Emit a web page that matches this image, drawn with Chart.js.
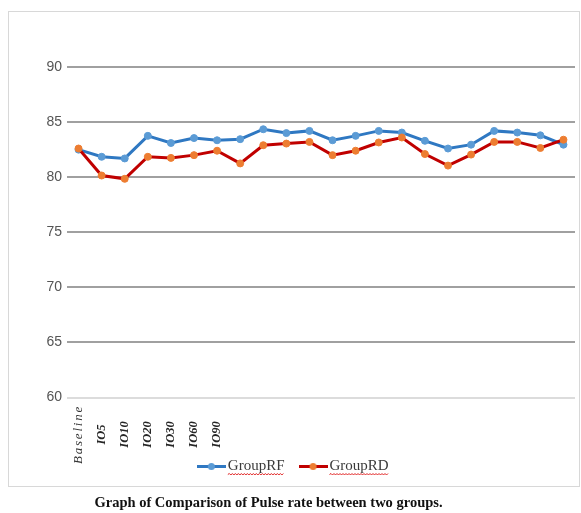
<!DOCTYPE html>
<html>
<head>
<meta charset="utf-8">
<script src="https://cdn.jsdelivr.net/npm/chart.js@4"></script>
<style>
  html, body { margin: 0; padding: 0; background: #fff; }
  body { width: 581px; height: 513px; position: relative; overflow: hidden; }
  #frame { position: absolute; left: 8px; top: 11px; width: 572px; height: 476px;
           border: 1px solid #d8d8d8; box-sizing: border-box; }
  #wrap { position: absolute; left: 0; top: 0; width: 581px; height: 513px; }
  #caption { position: absolute; left: 0; width: 537px; top: 494px; text-align: center;
             font: bold 14.5px "Liberation Serif", "Times New Roman", serif; color: #111;
             line-height: 16px; white-space: nowrap; }
</style>
</head>
<body>
<div id="frame"></div>
<div id="wrap"><canvas id="chart"></canvas></div>
<div id="caption">Graph of Comparison of Pulse rate between two groups.</div>
<script>
// Measurement points (only the first seven carry a printed label)
const categories = ['Baseline', 'IO5', 'IO10', 'IO20', 'IO30', 'IO60', 'IO90',
  '', '', '', '', '', '', '', '', '', '', '', '', '', '', ''];

// Pulse rate per group
const groupRF = [82.5, 81.85, 81.7, 83.75, 83.1, 83.55, 83.35, 83.45, 84.35, 84.0, 84.2,
  83.35, 83.75, 84.2, 84.05, 83.3, 82.6, 82.95, 84.2, 84.05, 83.8, 82.95];
const groupRD = [82.6, 80.15, 79.85, 81.85, 81.75, 82.0, 82.4, 81.25, 82.9, 83.05, 83.2,
  82.0, 82.4, 83.15, 83.6, 82.1, 81.05, 82.05, 83.2, 83.2, 82.65, 83.4];

const seriesNames = ['GroupRF', 'GroupRD'];
const yTicks = [60, 65, 70, 75, 80, 85, 90];

const lineColors = ['#2f78c2', '#c00000'];
const markerColors = ['#5b9bd5', '#ed7d31'];

// Legend swatch: a short line with a dot in the middle
function swatch(lineColor, dotColor) {
  const c = document.createElement('canvas');
  c.width = 29; c.height = 9;
  const g = c.getContext('2d');
  g.strokeStyle = lineColor; g.lineWidth = 3;
  g.beginPath(); g.moveTo(0, 4.5); g.lineTo(29, 4.5); g.stroke();
  g.fillStyle = dotColor;
  g.beginPath(); g.arc(14.5, 4.5, 3.5, 0, Math.PI * 2); g.fill();
  return c;
}
const swatches = [swatch(lineColors[0], markerColors[0]), swatch(lineColors[1], markerColors[1])];

// Rotated category labels, centred on a common line under the axis
const categoryLabels = {
  id: 'categoryLabels',
  afterDraw(chart) {
    const { ctx, chartArea } = chart;
    const xs = chart.scales.x;
    const yMid = chartArea.bottom + 37;
    ctx.save();
    ctx.textAlign = 'center';
    ctx.textBaseline = 'middle';
    categories.forEach((label, i) => {
      if (!label) return;
      const x = xs.getPixelForValue(i);
      ctx.save();
      ctx.translate(x, yMid);
      ctx.rotate(-Math.PI / 2);
      if (i === 0) {
        ctx.font = 'italic 13px "Liberation Serif", "Times New Roman", serif';
        ctx.fillStyle = '#333';
        if ('letterSpacing' in ctx) ctx.letterSpacing = '1.8px';
      } else {
        ctx.font = 'italic bold 12.5px "Liberation Serif", "Times New Roman", serif';
        ctx.fillStyle = '#262626';
        if ('letterSpacing' in ctx) ctx.letterSpacing = '0px';
      }
      ctx.fillText(label, 0, 0);
      ctx.restore();
    });
    ctx.restore();
  }
};

// Red wavy underline beneath the legend entries
const legendSquiggle = {
  id: 'legendSquiggle',
  afterDraw(chart) {
    const lg = chart.legend;
    if (!lg || !lg.legendHitBoxes) return;
    const { ctx } = chart;
    const opts = lg.options.labels;
    const fs = opts.font.size;
    const bw = opts.pointStyleWidth;
    ctx.save();
    ctx.strokeStyle = '#e02020';
    ctx.lineWidth = 1;
    lg.legendHitBoxes.forEach(hb => {
      const x0 = hb.left + bw + fs / 2;
      const x1 = hb.left + hb.width;
      const y = hb.top + fs / 2 + 8;
      ctx.beginPath();
      let up = true;
      ctx.moveTo(x0, y);
      for (let x = x0 + 1.5; x <= x1; x += 1.5) {
        ctx.lineTo(x, up ? y - 1 : y + 0.5);
        up = !up;
      }
      ctx.stroke();
    });
    ctx.restore();
  }
};

new Chart(document.getElementById('chart'), {
  type: 'line',
  data: {
    labels: categories,
    datasets: [
      {
        label: seriesNames[0], data: groupRF, order: 1,
        borderColor: lineColors[0], borderWidth: 3,
        pointBackgroundColor: markerColors[0], pointBorderColor: markerColors[0],
        pointRadius: 3.5, pointBorderWidth: 1, tension: 0
      },
      {
        label: seriesNames[1], data: groupRD, order: 0,
        borderColor: lineColors[1], borderWidth: 3,
        pointBackgroundColor: markerColors[1], pointBorderColor: markerColors[1],
        pointRadius: 3.5, pointBorderWidth: 1, tension: 0
      }
    ]
  },
  options: {
    responsive: true,
    maintainAspectRatio: false,
    animation: false,
    devicePixelRatio: 1,
    layout: { padding: { left: 16, right: 6, top: 67, bottom: 29 } },
    scales: {
      x: {
        offset: true,
        grid: { display: false },
        border: { display: false },
        ticks: { display: false },
        afterFit(scale) { scale.height = 42; }
      },
      y: {
        min: 60, max: 90,
        afterBuildTicks(scale) { scale.ticks = yTicks.map(v => ({ value: v })); },
        afterFit(scale) { scale.width = 51; },
        border: { display: false },
        grid: {
          drawTicks: false,
          lineWidth: 2,
          color: ctx => (ctx.tick && ctx.tick.value === 60) ? '#dcdcdc' : '#a0a0a0'
        },
        ticks: {
          padding: 5,
          color: '#555',
          font: { family: '"Liberation Sans", Arial, sans-serif', size: 14 }
        }
      }
    },
    plugins: {
      tooltip: { enabled: false },
      legend: {
        position: 'bottom',
        onClick: null,
        labels: {
          usePointStyle: true,
          pointStyleWidth: 18,
          padding: 19.5,
          color: '#3a3a3a',
          font: { family: '"Liberation Serif", "Times New Roman", serif', size: 15 },
          generateLabels(chart) {
            return chart.data.datasets.map((ds, i) => ({
              text: ds.label,
              pointStyle: swatches[i],
              fillStyle: markerColors[i],
              strokeStyle: lineColors[i],
              lineWidth: 0,
              hidden: false,
              datasetIndex: i,
              fontColor: '#3a3a3a'
            }));
          }
        }
      }
    }
  },
  plugins: [categoryLabels, legendSquiggle]
});
</script>
</body>
</html>
